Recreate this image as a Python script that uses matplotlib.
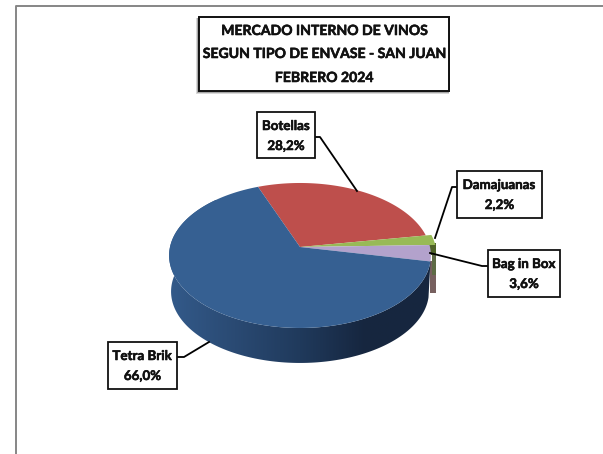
import numpy as np
import matplotlib
matplotlib.use('Agg')
import matplotlib.pyplot as plt
import matplotlib.patheffects as pe
from matplotlib.patches import Rectangle, Polygon
from matplotlib.colors import LinearSegmentedColormap

categorias = ['Botellas', 'Damajuanas', 'Bag in Box', 'Tetra Brik']
valores = [28.2, 2.2, 3.6, 66.0]
etiquetas = ['28,2%', '2,2%', '3,6%', '66,0%']
titulo = ['MERCADO INTERNO DE VINOS', 'SEGUN TIPO DE ENVASE - SAN JUAN', 'FEBRERO 2024']

colores = ['#BE4F4C', '#98BA56', '#B3A2CC', '#366092']

plt.rcParams['font.family'] = ['Lato', 'DejaVu Sans']

fig = plt.figure(figsize=(6.03, 4.54), dpi=100)
ax = fig.add_axes([0, 0, 1, 1])
ax.set_xlim(0, 603)
ax.set_ylim(454, 0)
ax.axis('off')

# marco del grafico
ax.plot([15.5, 15.5, 603], [454, 5.5, 5.5], color='#868686', lw=1.4)

cx, cy = 300, 247
a, b, k = 130, 71.5, 0.117
prof = 36.2
grueso = [pe.withStroke(linewidth=0.4, foreground='#111111')]


# circulo visto en perspectiva, lo de atras queda mas comprimido
def proyectar(ang, r=1.0, esc=1.0, dy=0.0):
    u = r * np.cos(np.radians(ang))
    v = r * np.sin(np.radians(ang))
    d = 1 + k * v
    return cx + esc * a * u / d, cy - esc * b * v / d + dy


inicio = 111.0
grados = np.array(valores) / sum(valores) * 360
fin = inicio - np.cumsum(grados)
ini = np.concatenate([[inicio], fin[:-1]])

# laterales de las porciones chicas
x, y = proyectar(fin[2])
ax.add_patch(Rectangle((x, y), 6, 32, fc='#77605F', ec='none'))
x, y = proyectar(fin[1])
ax.add_patch(Rectangle((x + 2, y + 8), 4, 22, fc='#5E6B45', ec='none'))
ax.add_patch(Rectangle((x - 1, y - 2), 7.5, 12, fc='#4F6228', ec='none'))

# lateral de tetra brik con degrade
t = np.linspace(ini[3], fin[3], 200)
x1, y1 = proyectar(t)
x2, y2 = proyectar(t, esc=0.985, dy=prof)
pared = Polygon(np.r_[np.c_[x1, y1], np.c_[x2[::-1], y2[::-1]]], fc='none', ec='none')
ax.add_patch(pared)
cmap = LinearSegmentedColormap.from_list('pared', ['#335A8A', '#2A4A73', '#203A5C', '#16263F', '#17273F'])
img = ax.imshow(np.linspace(0, 1, 256).reshape(1, -1), cmap=cmap, extent=(169, 431, 370, 200), aspect='auto', zorder=2)
img.set_clip_path(pared)
ax.set_xlim(0, 603)
ax.set_ylim(454, 0)

# tapas
radios = [1.0, 1.045, 1.0, 1.0]
for i, c in enumerate(colores):
    t = np.linspace(ini[i], fin[i], 200)
    x, y = proyectar(t, r=radios[i])
    ax.add_patch(Polygon(np.r_[[[cx, cy]], np.c_[x, y]], fc=c, ec='none', zorder=3))

# recuadros y lineas guia
cajas = [(257, 112, 58, 46), (457, 171, 85, 47), (488, 250, 72, 47), (108, 342, 69, 47)]
guias = [
    [(357, 191), (320, 137), (315, 137)],
    [(435, 238), (452, 187), (457, 187)],
    [(430, 253), (482, 266), (488, 266)],
    [(209, 342), (184, 357), (177, 357)],
]
for caja, guia, cat, et in zip(cajas, guias, categorias, etiquetas):
    g = np.array(guia)
    ax.plot(g[:, 0], g[:, 1], color='black', lw=1.3, zorder=4)
    ax.add_patch(Rectangle(caja[:2], caja[2], caja[3], fc='white', ec='#111111', lw=1.3, zorder=5))
    xm = caja[0] + caja[2] / 2
    ax.text(xm, caja[1] + 14, cat, ha='center', va='center', fontsize=9.6, fontweight='bold', color='#111111', zorder=6, path_effects=grueso)
    ax.text(xm, caja[1] + 34, et, ha='center', va='center', fontsize=9.6, fontweight='bold', color='#111111', zorder=6, path_effects=grueso)

# titulo
for d, g in [(3, '#D8D8D8'), (2, '#A6A6A6'), (1, '#707070')]:
    ax.add_patch(Rectangle((199 - d, 17 + d * 0.3), 251 + d * 0.6, 74 + d * 0.6, fc=g, ec='none', zorder=6))
ax.add_patch(Rectangle((199, 17), 250, 74, fc='white', ec='#111111', lw=1.4, zorder=7))
for y_t, linea in zip([31, 54, 78], titulo):
    ax.text(324, y_t, linea, ha='center', va='center', fontsize=10.1, fontweight='bold', color='#111111', zorder=8, path_effects=grueso)

fig.savefig('out.png', dpi=100, facecolor='white')
